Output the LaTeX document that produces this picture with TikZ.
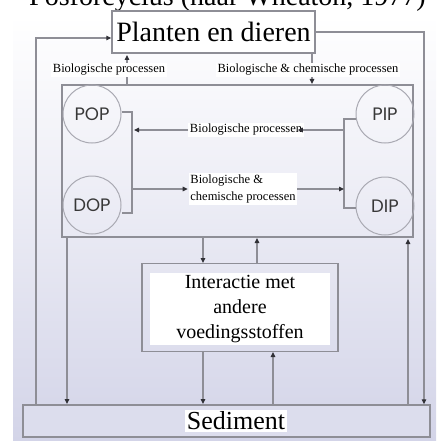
\documentclass[tikz,border=0pt]{standalone}
\usepackage{fontspec}
\setmainfont{Liberation Serif}
\newfontfamily\circfont{Poppins}
\usetikzlibrary{arrows.meta}
\definecolor{linegray}{HTML}{8E8E96}
\definecolor{circgray}{HTML}{A9A9B2}
\definecolor{lav}{HTML}{D3D4E8}
\definecolor{tipgray}{HTML}{303036}
\begin{document}
\begin{tikzpicture}[x=1pt,y=-1pt,
  conn/.style={draw=linegray,line width=1.2pt},
  arr/.style={conn,-{Triangle[length=5pt,width=4.5pt,fill=tipgray,color=tipgray]}},
  frame/.style={draw=linegray,line width=1.4pt,inner sep=0pt},
  pool/.style={circle,draw=circgray,line width=1pt,minimum size=58pt,inner sep=0pt,font=\circfont\fontsize{18}{18}\selectfont,text=black!78},
  lbl/.style={fill=white,inner sep=1.5pt,font=\fontsize{12.5}{14}\selectfont},
  big/.style={font=\fontsize{28}{30}\selectfont}]
\useasboundingbox (0,0) rectangle (436,441);
\begin{scope}
\clip (0,0) rectangle (436,441);
\shade[top color=white,bottom color=lav] (13,16) rectangle (436,441);
\node[big,anchor=base,inner sep=0pt] (title) at (227.5,6) {Fosforcyclus (naar Wheaton, 1977)};
\end{scope}
% boxes
\node[frame,fill=white,minimum width=203pt,minimum height=42pt,big] (planten) at (213.5,32) {Planten en dieren};
\node[frame,minimum width=351pt,minimum height=152pt] (inner) at (237.5,161) {};
\node[frame,minimum width=196pt,minimum height=88pt] (inter) at (240,307.5) {};
\node[fill=white,align=center,font=\fontsize{20}{25}\selectfont,inner sep=2pt,minimum width=180pt] (intertext) at (240,309) {Interactie met\\andere\\voedingsstoffen};
\node[frame,fill=lav!80!white,minimum width=407pt,minimum height=32pt] (sed) at (226.5,421) {};
\node[fill=white,inner sep=2pt,font=\fontsize{26}{28}\selectfont] (sedtext) at (236,421) {Sediment};
% pools
\node[pool] (pop) at (92,114) {POP};
\node[pool] (dop) at (92,205) {DOP};
\node[pool] (pip) at (385,114) {PIP};
\node[pool] (dip) at (385,206) {DIP};
% coordinates
\coordinate (bl1) at (132,112);
\coordinate (bl2) at (132,213);
\coordinate (br1) at (344,119);
\coordinate (br2) at (344,208);
\coordinate (ol1) at (36,38);
\coordinate (or1) at (424,32);
% brackets
\draw[conn] (pop.east|-bl1) -- (bl1) -- (bl2) -- (dop.east|-bl2);
\draw[conn] (pip.west|-br1) -- (br1) -- (br2) -- (dip.west|-br2);
% middle labels
\node[lbl] (mid1) at (246,130) {Biologische processen};
\node[lbl,align=left,font=\fontsize{12.5}{17}\selectfont] (mid2) at (243,189) {Biologische \&\\chemische processen};
\draw[arr] (br1|-mid1) -- ([xshift=-6pt]mid1.east);
\draw[arr] (mid1.west) -- ([xshift=2pt]bl1|-mid1);
\draw[arr] (bl1|-mid2) -- ([xshift=-1pt]mid2.west);
\draw[arr] (mid2.east) -- (br1|-mid2);
% top connections
\draw[arr] (127,85) -- (127,55);
\draw[arr] (312,53) -- (312,84);
\node[lbl] (lab1) at (109,70) {Biologische processen};
\node[lbl] (lab2) at (308,70) {Biologische \& chemische processen};
% outer loop
\draw[arr] (ol1|-sed.north) -- (ol1) -- (planten.west|-ol1);
\draw[arr] (planten.east|-or1) -- (or1) -- (or1|-sed.north);
% lower connections
\draw[arr] (67,237) -- (67,404);
\draw[arr] (408,405) -- (408,239);
\draw[arr] (203,237) -- (203,263);
\draw[arr] (257,264) -- (257,238);
\draw[arr] (203,351) -- (203,404);
\draw[arr] (273,405) -- (273,352);
\end{tikzpicture}
\end{document}
